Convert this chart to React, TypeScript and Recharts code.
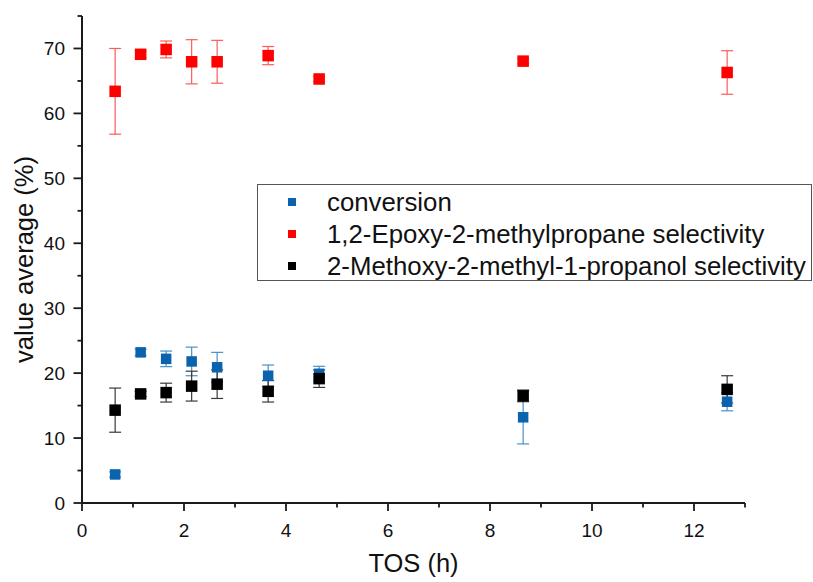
import React from 'react'
import { ScatterChart, Scatter, XAxis, YAxis, ErrorBar, Legend, Label } from 'recharts'

// Time on stream (h) shared by all three series
const TOS = [0.65, 1.15, 1.65, 2.15, 2.65, 3.65, 4.65, 8.65, 12.65]

// conversion (%) and its std. deviation
const CONVERSION = [4.4, 23.2, 22.2, 21.8, 20.9, 19.6, 19.9, 13.2, 15.6]
const CONVERSION_ERR = [0.4, 0.5, 1.2, 2.2, 2.3, 1.65, 1.15, 4.1, 1.4]

// 1,2-epoxy-2-methylpropane selectivity (%)
const EPOXY = [63.4, 69.1, 69.85, 67.95, 67.95, 68.9, 65.3, 68.05, 66.3]
const EPOXY_ERR = [6.6, 0.5, 1.3, 3.4, 3.3, 1.4, 0.4, 0.4, 3.35]

// 2-methoxy-2-methyl-1-propanol selectivity (%)
const METHOXY = [14.3, 16.8, 17.0, 18.0, 18.3, 17.2, 19.15, 16.5, 17.5]
const METHOXY_ERR = [3.4, 0.4, 1.45, 2.3, 2.2, 1.65, 1.35, 0.9, 2.1]

const X_TICKS = [0, 1, 2, 3, 4, 5, 6, 7, 8, 9, 10, 11, 12, 13]
const Y_TICKS = [0, 5, 10, 15, 20, 25, 30, 35, 40, 45, 50, 55, 60, 65, 70, 75]

const SERIES = [
  { name: 'conversion', values: CONVERSION, err: CONVERSION_ERR, fill: '#0b62ad', bar: '#4a90c8', size: 10.5 },
  { name: '1,2-Epoxy-2-methylpropane selectivity', values: EPOXY, err: EPOXY_ERR, fill: '#ff0000', bar: '#ff5a5a', size: 11.5 },
  { name: '2-Methoxy-2-methyl-1-propanol selectivity', values: METHOXY, err: METHOXY_ERR, fill: '#000000', bar: '#3a3a3a', size: 11.5 },
]

const FONT = '"Liberation Sans", Arial, sans-serif'
const INK = '#111'
const AXIS = '#1a1a1a'

// odd hours get a short unlabeled tick
function XTick({ x, y, payload }: any) {
  const major = payload.value % 2 === 0
  return (
    <g>
      <line x1={x} x2={x} y1={y} y2={y + (major ? 8 : 4.5)} stroke={AXIS} strokeWidth={1.8} />
      {major && (
        <text x={x} y={y + 34} textAnchor="middle" fontSize={19} fill={INK} fontFamily={FONT}>
          {payload.value}
        </text>
      )}
    </g>
  )
}

// labels every 10 %, minor ticks in between
function YTick({ x, y, payload }: any) {
  const major = payload.value % 10 === 0
  return (
    <g>
      <line x1={x} x2={x - (major ? 8.5 : 4.5)} y1={y} y2={y} stroke={AXIS} strokeWidth={1.8} />
      {major && (
        <text x={x - 17} y={y + 6.7} textAnchor="end" fontSize={19} fill={INK} fontFamily={FONT}>
          {payload.value}
        </text>
      )}
    </g>
  )
}

const square = (size: number, fill: string) => (p: any) => (
  <rect x={p.cx - size / 2} y={p.cy - size / 2} width={size} height={size} fill={fill} />
)

function LegendBox() {
  return (
    <div
      style={{
        position: 'relative', width: 555, height: 97, boxSizing: 'border-box',
        border: '1.5px solid #555', background: '#fff', fontFamily: FONT, fontSize: 25.8, color: INK,
      }}
    >
      {SERIES.map((s, i) => (
        <div key={s.name} style={{ position: 'absolute', left: 0, top: 1 + i * 32.2, height: 32, lineHeight: '32px', whiteSpace: 'nowrap' }}>
          <span style={{ position: 'absolute', left: 30, top: 12, width: 8, height: 8, background: s.fill }} />
          <span style={{ position: 'absolute', left: 69 }}>{s.name}</span>
        </div>
      ))}
    </div>
  )
}

export default function App() {
  return (
    <div style={{ position: 'absolute', left: 0, top: 0, background: '#fff' }}>
      <ScatterChart width={813} height={582} margin={{ top: 16, right: 68, bottom: 0, left: 0 }}>
        <XAxis
          type="number" dataKey="tos" domain={[0, 13]} ticks={X_TICKS} interval={0}
          height={79} tickSize={0} tickMargin={0} tick={<XTick />}
          axisLine={{ stroke: AXIS, strokeWidth: 2 }} allowDataOverflow
        >
          <Label
            content={({ viewBox }: any) => (
              <text x={viewBox.x + viewBox.width / 2} y={viewBox.y + 69} textAnchor="middle" fontSize={25.5} fill={INK} fontFamily={FONT}>
                TOS (h)
              </text>
            )}
          />
        </XAxis>
        <YAxis
          type="number" dataKey="v" domain={[0, 75]} ticks={Y_TICKS} interval={0}
          width={82} tickSize={0} tickMargin={0} tick={<YTick />}
          axisLine={{ stroke: AXIS, strokeWidth: 2 }} allowDataOverflow
        >
          <Label
            content={({ viewBox }: any) => (
              <text
                transform={`translate(33, ${viewBox.y + viewBox.height / 2}) rotate(-90)`}
                textAnchor="middle" fontSize={25.5} fill={INK} fontFamily={FONT}
              >
                value average (%)
              </text>
            )}
          />
        </YAxis>
        <Legend
          layout="horizontal" verticalAlign="middle" align="center"
          wrapperStyle={{ left: 257, top: 184, width: 555, height: 97 }}
          content={() => <LegendBox />}
        />
        {SERIES.map((s) => (
          <Scatter
            key={s.name}
            name={s.name}
            data={TOS.map((t, i) => ({ tos: t, v: s.values[i], err: s.err[i] }))}
            dataKey="v"
            shape={square(s.size, s.fill)}
            isAnimationActive={false}
          >
            <ErrorBar dataKey="err" direction="y" width={6} stroke={s.bar} strokeWidth={1.2} />
          </Scatter>
        ))}
      </ScatterChart>
    </div>
  )
}
